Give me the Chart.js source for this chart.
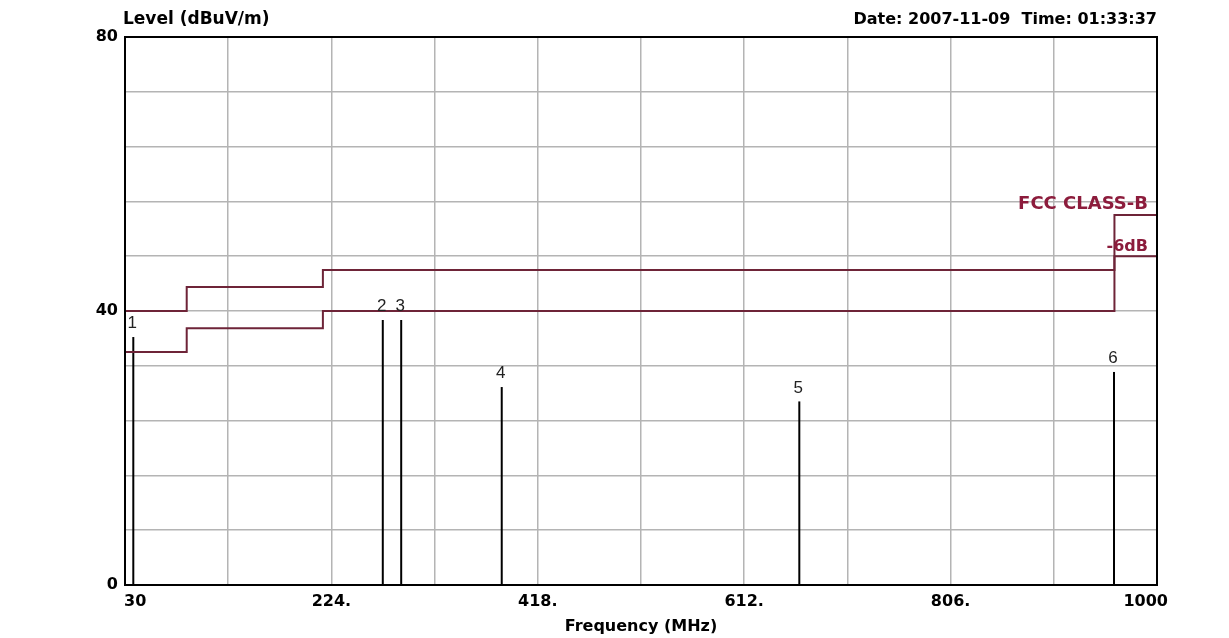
<!DOCTYPE html>
<html>
<head>
<meta charset="utf-8">
<title>Level vs Frequency</title>
<script src="https://cdn.jsdelivr.net/npm/chart.js@4.4.0/dist/chart.umd.min.js"></script>
<style>
  html, body { margin: 0; padding: 0; background: #fff; }
  #wrap { width: 1229px; height: 638px; position: relative; }
</style>
</head>
<body>
<div id="wrap"><canvas id="myChart" width="1229" height="638"></canvas></div>
<script>
// x grid every 97 MHz, label only every other line
var freqTicks = [30, 127, 224, 321, 418, 515, 612, 709, 806, 903, 1000];
var freqLabels = ['30', '', '224.', '', '418.', '', '612.', '', '806.', '', '1000'];
var levelLabels = { 0: '0', 40: '40', 80: '80' };

// FCC class B limit and the -6dB line (level holds until the next point)
var limitFreq = [30, 88, 216, 960, 1000];
var limitClassB = [40, 43.5, 46, 54, 54];
var limitMinus6 = [34, 37.5, 40, 48, 48];

// measured peaks
var peakFreq = [37.8, 272.3, 289.6, 384.1, 663.8, 959.6];
var peakLevel = [36.2, 38.7, 38.7, 28.9, 26.8, 31.1];
var peakNames = ['1', '2', '3', '4', '5', '6'];

var boldFont = 'bold 16px "DejaVu Sans"';
var limitColor = '#6e2438';
var labelRed = '#8c1c3c';

function limitPoints(levels) {
  var pts = [];
  for (var i = 0; i < limitFreq.length; i++) {
    pts.push({ x: limitFreq[i], y: levels[i] });
  }
  return pts;
}

var datasets = [];
datasets.push({
  label: 'FCC CLASS-B',
  data: limitPoints(limitClassB),
  stepped: 'before',
  borderColor: limitColor,
  borderWidth: 2,
  pointRadius: 0
});
datasets.push({
  label: '-6dB',
  data: limitPoints(limitMinus6),
  stepped: 'before',
  borderColor: limitColor,
  borderWidth: 2,
  pointRadius: 0
});
for (var i = 0; i < peakFreq.length; i++) {
  datasets.push({
    label: 'peak ' + peakNames[i],
    data: [{ x: peakFreq[i], y: 0 }, { x: peakFreq[i], y: peakLevel[i] }],
    borderColor: '#000',
    borderWidth: 2,
    pointRadius: 0
  });
}

var extras = {
  id: 'extras',
  beforeDraw: function (chart) {
    var c = chart.ctx;
    c.save();
    c.fillStyle = '#fff';
    c.fillRect(0, 0, chart.width, chart.height);
    c.restore();
  },
  afterDraw: function (chart) {
    var c = chart.ctx, a = chart.chartArea;
    var xs = chart.scales.x, ys = chart.scales.y;
    c.save();

    // plot frame
    c.strokeStyle = '#000';
    c.lineWidth = 2;
    c.strokeRect(a.left, a.top, a.right - a.left, a.bottom - a.top);

    // header texts
    c.fillStyle = '#000';
    c.textBaseline = 'alphabetic';
    c.textAlign = 'left';
    c.font = 'bold 17px "DejaVu Sans"';
    c.fillText('Level (dBuV/m)', a.left - 2, 24);
    c.font = boldFont;
    c.textAlign = 'right';
    c.fillText('Date: 2007-11-09  Time: 01:33:37', a.right, 24);

    // x tick labels
    c.textBaseline = 'middle';
    for (var k = 0; k < freqTicks.length; k++) {
      if (!freqLabels[k]) continue;
      var px = xs.getPixelForValue(freqTicks[k]);
      if (k === 0) {
        c.textAlign = 'left';
        c.fillText(freqLabels[k], px - 1, 602);
      } else if (k === freqTicks.length - 1) {
        c.textAlign = 'right';
        c.fillText(freqLabels[k], px + 11, 602);
      } else {
        c.textAlign = 'center';
        c.fillText(freqLabels[k], px, 602);
      }
    }

    // limit line names
    c.fillStyle = labelRed;
    c.textAlign = 'right';
    c.font = 'bold 18px "DejaVu Sans"';
    c.fillText('FCC CLASS-B', a.right - 9, ys.getPixelForValue(55.5));
    c.font = boldFont;
    c.fillText('-6dB', a.right - 9, ys.getPixelForValue(49.4));

    // peak numbers
    c.fillStyle = '#222';
    c.font = '17px "Liberation Sans"';
    c.textAlign = 'center';
    c.textBaseline = 'bottom';
    for (var j = 0; j < peakFreq.length; j++) {
      c.fillText(peakNames[j], xs.getPixelForValue(peakFreq[j]) - 1, ys.getPixelForValue(peakLevel[j]) - 5);
    }
    c.restore();
  }
};

var ctx = document.getElementById('myChart');
var myChart = new Chart(ctx, {
  type: 'line',
  data: { datasets: datasets },
  options: {
    responsive: false,
    animation: false,
    layout: { padding: { left: 0, right: 72, top: 37, bottom: 0 } },
    plugins: {
      legend: { display: false },
      tooltip: { enabled: false }
    },
    scales: {
      x: {
        type: 'linear',
        min: 30,
        max: 1000,
        offset: false,
        afterBuildTicks: function (scale) {
          scale.ticks = freqTicks.map(function (v) { return { value: v }; });
        },
        afterFit: function (scale) { scale.height = 53; },
        ticks: { display: false },
        grid: { color: '#b4b4b4', lineWidth: 1.5, drawTicks: false },
        border: { display: false },
        title: {
          display: true,
          text: 'Frequency (MHz)',
          color: '#000',
          font: { family: 'DejaVu Sans', size: 16, weight: 'bold' },
          padding: { top: 0, bottom: 2 }
        }
      },
      y: {
        min: 0,
        max: 80,
        afterFit: function (scale) { scale.width = 125; },
        ticks: {
          stepSize: 8,
          padding: 7,
          color: '#000',
          font: { family: 'DejaVu Sans', size: 16, weight: 'bold' },
          callback: function (v) { return levelLabels[v] || ''; }
        },
        grid: { color: '#b4b4b4', lineWidth: 1.5, drawTicks: false },
        border: { display: false }
      }
    }
  },
  plugins: [extras]
});
</script>
</body>
</html>
